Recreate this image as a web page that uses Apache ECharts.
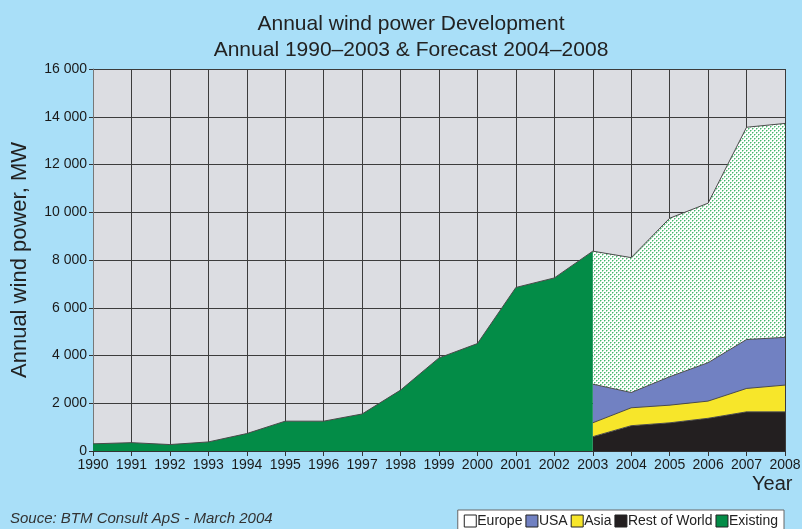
<!DOCTYPE html>
<html>
<head>
<meta charset="utf-8">
<script src="https://cdn.jsdelivr.net/npm/echarts@6/dist/echarts.min.js"></script>
<style>
  html, body { margin: 0; padding: 0; background: #a9dff8; }
  #main { width: 802px; height: 529px; }
</style>
</head>
<body>
<div id="main"></div>
<script>
// categories
var years = ['1990','1991','1992','1993','1994','1995','1996','1997','1998','1999','2000','2001','2002','2003','2004','2005','2006','2007','2008'];
var yTicks = [0, 2000, 4000, 6000, 8000, 10000, 12000, 14000, 16000];

// installed (existing) 1990-2003, MW
var existing = [300, 350, 270, 380, 730, 1250, 1250, 1550, 2550, 3900, 4500, 6850, 7250, 8370, '-', '-', '-', '-', '-'];

// forecast stack 2003-2008, MW
var restOfWorld = ['-','-','-','-','-','-','-','-','-','-','-','-','-', 600, 1060, 1180, 1370, 1640, 1640];
var asia        = ['-','-','-','-','-','-','-','-','-','-','-','-','-', 580, 750, 740, 720, 980, 1120];
var usa         = ['-','-','-','-','-','-','-','-','-','-','-','-','-', 1620, 640, 1190, 1610, 2050, 2000];
var europe      = ['-','-','-','-','-','-','-','-','-','-','-','-','-', 5570, 5650, 6640, 6680, 8890, 8960];

// dotted fill for Europe
var pat = document.createElement('canvas');
pat.width = 4; pat.height = 4;
var pc = pat.getContext('2d');
pc.fillStyle = '#ffffff';
pc.fillRect(0, 0, 4, 4);
pc.fillStyle = '#a3dcb6';
pc.fillRect(1, 0, 1, 1);
pc.fillRect(0, 1, 1, 1);
pc.fillRect(3, 2, 1, 1);
pc.fillRect(2, 3, 1, 1);
pc.fillStyle = '#45b66d';
pc.fillRect(0, 0, 1, 1);
pc.fillRect(2, 2, 1, 1);

var edge = { color: '#4a4a4a', width: 1 };
var font = 'Liberation Sans, Arial, sans-serif';

function fmt(v) {
  return String(v).replace(/\B(?=(\d{3})+(?!\d))/g, ' ');
}

var myChart = echarts.init(document.getElementById('main'));
myChart.setOption({
  backgroundColor: '#a9dff8',
  animation: false,
  textStyle: { fontFamily: font },
  title: {
    text: 'Annual wind power Development\nAnnual 1990\u20132003 & Forecast 2004\u20132008',
    left: 406,
    textAlign: 'center',
    top: 6,
    textStyle: { fontSize: 21, fontWeight: 'normal', color: '#222', lineHeight: 26 }
  },
  legend: {
    data: [
      { name: 'Europe', itemStyle: { color: '#ffffff' } },
      { name: 'USA' },
      { name: 'Asia' },
      { name: 'Rest of World' },
      { name: 'Existing' }
    ],
    icon: 'rect',
    right: 18,
    top: 510,
    itemWidth: 12,
    itemHeight: 12,
    itemGap: 3,
    padding: [4, 6, 6, 6],
    backgroundColor: '#ffffff',
    borderColor: '#666',
    borderWidth: 1,
    itemStyle: { borderColor: '#222', borderWidth: 1 },
    textStyle: { fontSize: 14, color: '#222', padding: [0, 0, 0, -4] }
  },
  grid: {
    left: 93, right: 17, top: 69, bottom: 78,
    outerBoundsMode: 'none',
    show: true, backgroundColor: '#dcdde2', borderWidth: 0
  },
  xAxis: {
    type: 'category',
    data: years,
    boundaryGap: false,
    axisLine: { lineStyle: { color: '#333' } },
    axisTick: { show: true, length: 5, lineStyle: { color: '#333' } },
    axisLabel: { fontSize: 14, color: '#1a1a1a', margin: 7, interval: 0 },
    splitLine: { show: true, lineStyle: { color: '#3c3c3c', width: 1 } }
  },
  yAxis: {
    type: 'value',
    min: yTicks[0],
    max: yTicks[yTicks.length - 1],
    interval: 2000,
    name: 'Annual wind power, MW',
    nameLocation: 'middle',
    nameGap: 62,
    nameTextStyle: { fontSize: 22, color: '#222' },
    axisLine: { show: true, lineStyle: { color: '#777' } },
    axisTick: { show: true, length: 4, lineStyle: { color: '#333' } },
    axisLabel: { fontSize: 14, color: '#1a1a1a', margin: 6, formatter: fmt },
    splitLine: { show: true, lineStyle: { color: '#3c3c3c', width: 1 } }
  },
  graphic: [
    { type: 'text', left: 752, top: 474, style: { text: 'Year', fontSize: 20, fill: '#222', fontFamily: font } },
    { type: 'text', left: 10, top: 511, style: { text: 'Souce: BTM Consult ApS - March 2004', fontSize: 15, fontStyle: 'italic', fill: '#333', fontFamily: font } }
  ],
  series: [
    { name: 'Rest of World', type: 'line', stack: 'fc', data: restOfWorld, symbol: 'none', lineStyle: edge, areaStyle: { color: '#231f20', opacity: 1 }, itemStyle: { color: '#231f20' } },
    { name: 'Asia', type: 'line', stack: 'fc', data: asia, symbol: 'none', lineStyle: edge, areaStyle: { color: '#f7e62a', opacity: 1 }, itemStyle: { color: '#f7e62a' } },
    { name: 'USA', type: 'line', stack: 'fc', data: usa, symbol: 'none', lineStyle: edge, areaStyle: { color: '#7181c2', opacity: 1 }, itemStyle: { color: '#7181c2' } },
    { name: 'Europe', type: 'line', stack: 'fc', data: europe, symbol: 'none', lineStyle: edge, areaStyle: { color: { image: pat, repeat: 'repeat' }, opacity: 1 }, itemStyle: { color: '#ffffff' } },
    { name: 'Existing', type: 'line', data: existing, symbol: 'none', lineStyle: edge, areaStyle: { color: '#038c47', opacity: 1 }, itemStyle: { color: '#038c47' }, z: 3 }
  ]
});
</script>
</body>
</html>
